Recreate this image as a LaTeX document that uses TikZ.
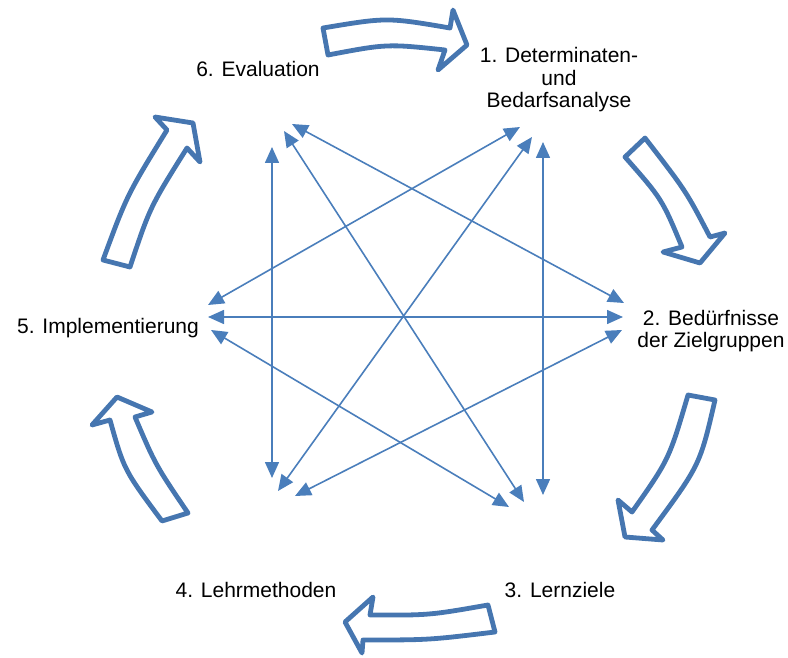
\documentclass[tikz,border=0pt]{standalone}
\usepackage{fontspec}
\setmainfont{Liberation Sans}
\usetikzlibrary{arrows.meta}
\definecolor{linkblue}{RGB}{74,126,187}
\definecolor{blockblue}{RGB}{70,118,176}
\begin{document}
\begin{tikzpicture}[x=1pt,y=-1pt,
  label/.style={font=\fontsize{21}{22.5}\selectfont, inner sep=0pt, align=center, text=black},
  link/.style={draw=linkblue, line width=1.6pt, {Triangle[length=16pt,width=14pt]}-{Triangle[length=16pt,width=14pt]}},
  blockarrow/.style={draw=blockblue, line width=4.8pt, fill=white, line join=round}]
\useasboundingbox (0,0) rectangle (788,658);

% labels
\node[label] (n6) at (258,69) {6. Evaluation};
\node[label] (n1) at (559,80) {1. Determinaten-\\und\\Bedarfsanalyse};
\node[label] (n2) at (711,331) {2. Bedürfnisse\\der Zielgruppen};
\node[label] (n3) at (560,590) {3. Lernziele};
\node[label] (n4) at (256,590) {4. Lehrmethoden};
\node[label] (n5) at (108,328) {5. Implementierung};

% connector end points
\coordinate (h5) at (208,317);  \coordinate (h2) at (623,317);
\coordinate (v6) at (272,147);  \coordinate (v4) at (272,478);
\coordinate (v1) at (543,142);  \coordinate (v3) at (543,495);
\coordinate (a6) at (292,124);  \coordinate (a2) at (624,303);
\coordinate (b6) at (284,131);  \coordinate (b3) at (524,502);
\coordinate (c1) at (520,127);  \coordinate (c5) at (208,305);
\coordinate (d1) at (532,137);  \coordinate (d4) at (278,491);
\coordinate (e2) at (622,330);  \coordinate (e4) at (295,496);
\coordinate (f5) at (211,330);  \coordinate (f3) at (509,507);

\draw[link] (h5) -- (h2);
\draw[link] (v6) -- (v4);
\draw[link] (v1) -- (v3);
\draw[link] (a6) -- (a2);
\draw[link] (b6) -- (b3);
\draw[link] (c1) -- (c5);
\draw[link] (d1) -- (d4);
\draw[link] (e2) -- (e4);
\draw[link] (f5) -- (f3);

% curved block arrows
% 6 -> 1 (top)
\draw[blockarrow] (323,28) .. controls (387,17.3) .. (450,28) -- (453,10) -- (467,45) -- (438,70) -- (445,50) .. controls (387,43.8) .. (328,55) -- cycle;
% 1 -> 2 (upper right)
\draw[blockarrow] (645,138) .. controls (686,191) .. (710,237) -- (725,233) -- (700,263) -- (663,252) -- (682,247) .. controls (662,199) .. (625,157) -- cycle;
% 2 -> 3 (lower right)
\draw[blockarrow] (715,400) .. controls (700,465) .. (652,530) -- (663,540) -- (625,537) -- (618,500) -- (632,512) .. controls (669,459.5) .. (688,395) -- cycle;
% 3 -> 4 (bottom)
\draw[blockarrow] (488,605) .. controls (429,615.3) .. (370,615) -- (373,597) -- (345,622) -- (362,653) -- (363,640) .. controls (429,640) .. (495,632) -- cycle;
% 4 -> 5 (lower left)
\draw[blockarrow] (162,521) .. controls (124,470) .. (110,420) -- (92,425) -- (117,397) -- (152,412) -- (135,417) .. controls (155.5,465) .. (188,513) -- cycle;
% 5 -> 6 (upper left)
\draw[blockarrow] (103,260) .. controls (127,195) .. (167,130) -- (155,117) -- (193,123) -- (200,162) -- (187,148) .. controls (150,207) .. (130,267) -- cycle;
\end{tikzpicture}
\end{document}
